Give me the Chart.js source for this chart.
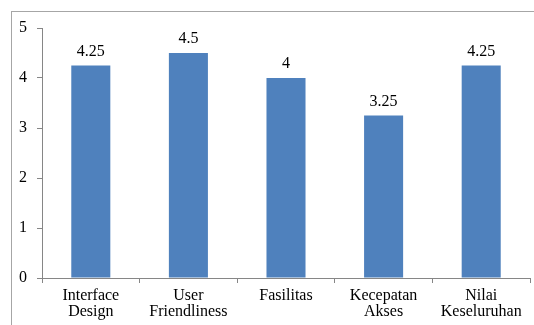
<!DOCTYPE html>
<html lang="en">
<head>
    <meta charset="UTF-8">
    <title>Penilaian</title>
    <script src="https://cdn.jsdelivr.net/npm/chart.js@4.4.1/dist/chart.umd.min.js"></script>
    <style>
        html, body { margin: 0; padding: 0; background: #fff; }
        #chart { display: block; }
    </style>
</head>
<body>
    <canvas id="chart" width="534" height="325"></canvas>
    <script>
        // data
        const categories = [
            ['Interface', 'Design'],
            ['User', 'Friendliness'],
            ['Fasilitas'],
            ['Kecepatan', 'Akses'],
            ['Nilai', 'Keseluruhan']
        ];
        const scores = [4.25, 4.5, 4, 3.25, 4.25];
        const yTicks = [0, 1, 2, 3, 4, 5];

        const serif = 'Tinos, "Times New Roman", "Noto Serif", "Liberation Serif", "DejaVu Serif", Times, serif';
        const axisGray = '#868686';

        // outer frame (only left and top edges show in the picture)
        const framePlugin = {
            id: 'frame',
            beforeDraw(chart) {
                const ctx = chart.ctx;
                ctx.save();
                ctx.strokeStyle = '#a6a6a6';
                ctx.lineWidth = 1;
                ctx.strokeRect(11.5, 11.5, 700, 700);
                ctx.restore();
            }
        };

        // value labels above bars
        const valueLabels = {
            id: 'valueLabels',
            afterDatasetsDraw(chart) {
                const ctx = chart.ctx;
                const meta = chart.getDatasetMeta(0);
                ctx.save();
                ctx.font = '16px ' + serif;
                ctx.fillStyle = '#000';
                ctx.textAlign = 'center';
                ctx.textBaseline = 'alphabetic';
                meta.data.forEach((bar, i) => {
                    ctx.fillText(String(scores[i]), bar.x, bar.y - 10);
                });
                ctx.restore();
            }
        };

        new Chart(document.getElementById('chart'), {
            type: 'bar',
            data: {
                labels: categories,
                datasets: [{
                    data: scores,
                    backgroundColor: '#4F81BD',
                    borderWidth: 0,
                    barPercentage: 0.4,
                    categoryPercentage: 1.0
                }]
            },
            options: {
                responsive: false,
                animation: false,
                devicePixelRatio: 1,
                layout: { padding: { left: 0, top: 28, right: 4, bottom: 0 } },
                plugins: {
                    legend: { display: false },
                    tooltip: { enabled: false }
                },
                scales: {
                    x: {
                        afterFit(scale) { scale.height = 47; },
                        grid: {
                            offset: true,
                            drawOnChartArea: false,
                            tickLength: 5,
                            color: axisGray
                        },
                        border: { color: axisGray },
                        ticks: {
                            color: '#000',
                            padding: 5,
                            maxRotation: 0,
                            autoSkip: false,
                            font: { family: serif, size: 16, lineHeight: 1.0 }
                        }
                    },
                    y: {
                        min: 0,
                        max: 5,
                        afterFit(scale) { scale.width = 42; },
                        afterBuildTicks(scale) {
                            scale.ticks = yTicks.map(v => ({ value: v }));
                        },
                        grid: {
                            drawOnChartArea: false,
                            tickLength: 5,
                            color: axisGray
                        },
                        border: { color: axisGray },
                        ticks: {
                            color: '#000',
                            padding: 10,
                            font: { family: serif, size: 16 }
                        }
                    }
                }
            },
            plugins: [framePlugin, valueLabels]
        });
    </script>
</body>
</html>
